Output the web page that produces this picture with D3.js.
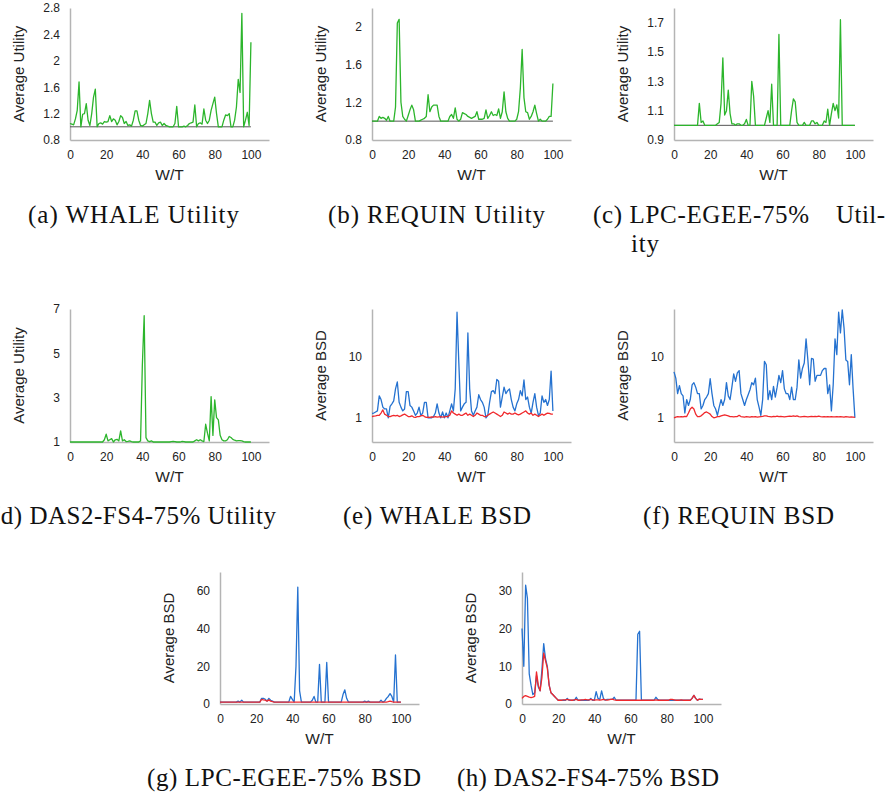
<!DOCTYPE html>
<html>
<head>
<meta charset="utf-8">
<script src="https://cdn.jsdelivr.net/npm/d3@7"></script>
<style>
  body { margin: 0; background: #fff; }
  svg text { font-family: "Liberation Sans", Arial, sans-serif; }
  .cap { font-family: "Liberation Serif", "Times New Roman", serif; font-size: 25px; fill: #111; }
</style>
</head>
<body>
<script>
// W/T values shared by every panel
const wt = d3.range(0, 101);
const xTicks = [0, 20, 40, 60, 80, 100];

// (a) WHALE utility
const whaleUtility = [
  1.05, 1.04, 1.03, 1.12, 1.25, 1.68, 1.0, 1.19, 1.2, 1.35,
  1.1, 1.02, 1.2, 1.45, 1.57, 1.0, 1.05, 1.06, 1.04, 1.08,
  1.07, 1.08, 1.17, 1.08, 1.12, 1.1, 1.03, 1.08, 1.17, 1.14,
  1.05, 1.08, 1.02, 1.03, 1.01, 1.1, 1.24, 1.24, 1.1, 1.02,
  1.01, 1.03, 1.05, 1.2, 1.4, 1.2, 1.07, 1.07, 1.02, 1.06,
  1.07, 1.02, 1.05, 1.02, 1.01, 1.0, 1.0, 1.0, 1.05, 1.31,
  1.0, 1.0, 1.0, 1.01, 1.0, 1.02, 1.05, 1.06, 1.07, 1.33,
  1.0, 1.05, 1.06, 1.04, 1.27, 1.1, 1.05, 1.1, 1.25, 1.35,
  1.45, 1.2, 1.0, 1.0, 1.0, 1.1, 1.18, 1.17, 1.2, 1.0,
  1.0, 1.1, 1.3, 1.72, 1.52, 2.72, 1.0, 1.1, 1.22, 1.02, 2.28
];
// (b) REQUIN utility
const requinUtility = [
  1.0, 1.0, 1.0, 1.0, 1.05, 1.03, 1.04, 1.03, 1.01, 1.05,
  1.0, 1.0, 1.0, 1.15, 2.04, 2.08, 1.2, 1.05, 1.02, 1.0,
  1.06, 1.12, 1.17, 1.12, 1.0, 1.0, 1.0, 1.01, 1.02, 1.03,
  1.05, 1.28, 1.1, 1.15, 1.17, 1.17, 1.17, 1.05, 1.0, 1.0,
  1.0, 1.0, 1.0, 1.05, 1.07, 1.03, 1.14, 1.02, 1.0, 1.02,
  1.09, 1.08, 1.07, 1.05, 1.04, 1.03, 1.04, 1.05, 1.1, 1.02,
  1.02, 1.02, 1.03, 1.12, 1.03, 1.06, 1.1, 1.06, 1.07, 1.06,
  1.13, 1.03, 1.1, 1.31, 1.1, 1.03, 1.0, 1.0, 1.0, 1.0,
  1.02, 1.1, 1.35, 1.76, 1.25, 1.1, 1.09, 1.02, 1.05, 1.1,
  1.17, 1.08, 1.0, 1.02, 1.0, 1.0, 1.0, 1.02, 1.05, 1.05, 1.4
];
// (c) LPC-EGEE-75% utility
const lpcUtility = [
  1.0, 1.0, 1.0, 1.0, 1.0, 1.0, 1.0, 1.0, 1.0, 1.0,
  1.0, 1.0, 1.0, 1.0, 1.15, 1.02, 1.03, 1.0, 1.0, 1.0,
  1.0, 1.0, 1.0, 1.0, 1.01, 1.02, 1.15, 1.46, 1.07, 1.1,
  1.24, 1.08, 1.01, 1.01, 1.0, 1.01, 1.01, 1.0, 1.0, 1.01,
  1.04, 1.0, 1.0, 1.3, 1.2, 1.0, 1.0, 1.0, 1.0, 1.0,
  1.0, 1.05, 1.1, 1.02, 1.28, 1.0, 1.0, 1.0, 1.62, 1.0,
  1.0, 1.0, 1.0, 1.0, 1.0, 1.1, 1.18, 1.16, 1.02, 1.0,
  1.0, 1.0, 1.02, 1.0, 1.0, 1.0, 1.03, 1.03, 1.01, 1.02,
  1.0, 1.0, 1.0, 1.03, 1.02, 1.11, 1.0, 1.08, 1.15, 1.1,
  1.14, 1.05, 1.72, 1.0, 1.0, 1.0, 1.0, 1.0, 1.0, 1.0, 1.0
];
// (d) DAS2-FS4-75% utility
const das2Utility = [
  1.0, 1.0, 1.0, 1.0, 1.0, 1.0, 1.0, 1.0, 1.0, 1.0,
  1.0, 1.0, 1.0, 1.0, 1.0, 1.0, 1.0, 1.0, 1.0, 1.1,
  1.35, 1.05, 1.1, 1.15, 1.0, 1.1, 1.12, 1.05, 1.5, 1.05,
  1.1, 1.02, 1.03, 1.05, 1.02, 1.0, 1.0, 1.0, 1.0, 1.05,
  4.5, 6.7, 1.2, 1.05, 1.02, 1.05, 1.0, 1.0, 1.0, 1.0,
  1.0, 1.0, 1.0, 1.0, 1.0, 1.0, 1.02, 1.03, 1.02, 1.0,
  1.0, 1.0, 1.03, 1.02, 1.0, 1.0, 1.0, 1.0, 1.0, 1.05,
  1.1, 1.05, 1.1, 1.05, 1.02, 1.8, 1.4, 1.05, 3.05, 1.3,
  2.9, 2.1, 2.0, 1.3, 1.1, 1.05, 1.05, 1.1, 1.25, 1.2,
  1.12, 1.08, 1.05, 1.06, 1.06, 1.05, 1.02, 1.0, 1.0, 1.0, 1.0
];

// (e) WHALE BSD
const whaleBsdBlue = [
  1.18, 1.2, 1.25, 1.3, 2.3, 2.0, 1.5, 1.4, 1.4, 1.0,
  1.55, 1.7, 1.9, 3.0, 3.9, 1.8, 1.5, 1.3, 1.4, 2.7,
  2.7, 1.6, 1.5, 1.3, 1.1, 1.2, 1.5, 1.1, 1.2, 1.8,
  1.8, 1.0, 1.0, 1.0, 1.05, 1.2, 1.7, 1.2, 1.0, 1.25,
  1.0, 1.2, 1.0, 1.3, 1.7, 1.3, 3.0, 55, 8, 1.3,
  1.5, 1.7, 1.8, 25, 3.0, 1.3, 1.1, 1.3, 1.5, 2.4,
  2.0, 1.8, 1.5, 1.0, 1.1, 1.8, 2.7, 2.8, 2.5, 4.3,
  4.0, 1.5, 2.2, 3.2, 2.5, 2.8, 3.0, 2.0, 1.5, 1.3,
  1.7, 2.0, 2.8, 2.3, 4.2, 2.0, 2.2, 1.5, 1.2, 1.8,
  2.5, 1.5, 1.1, 1.2, 2.3, 1.8, 2.0, 1.6, 2.0, 5.9, 1.3
];
const whaleBsdRed = [
  1.05, 1.07, 1.08, 1.1, 1.1, 1.2, 1.35, 1.15, 1.1, 1.05,
  1.05, 1.08, 1.1, 1.08, 1.1, 1.05, 1.08, 1.12, 1.15, 1.1,
  1.05, 1.05, 1.08, 1.03, 1.02, 1.05, 1.05, 1.08, 1.1, 1.05,
  1.02, 1.03, 1.02, 1.04, 1.03, 1.05, 1.03, 1.04, 1.05, 1.03,
  1.04, 1.05, 1.05, 1.1, 1.3, 1.2, 1.15, 1.1, 1.15, 1.1,
  1.1, 1.15, 1.2, 1.1, 1.15, 1.1, 1.05, 1.1, 1.2, 1.15,
  1.1, 1.1, 1.05, 1.05, 1.1, 1.15, 1.2, 1.25, 1.2, 1.15,
  1.1, 1.05, 1.1, 1.25, 1.2, 1.15, 1.2, 1.15, 1.15, 1.2,
  1.15, 1.12, 1.15, 1.2, 1.25, 1.3, 1.2, 1.15, 1.2, 1.1,
  1.15, 1.1, 1.05, 1.1, 1.15, 1.1, 1.15, 1.2, 1.18, 1.15, 1.15
];
// (f) REQUIN BSD
const requinBsdBlue = [
  5.7, 4.5, 2.5, 3.4, 2.5, 2.3, 1.2, 2.0, 1.6, 2.0,
  3.5, 3.8, 3.2, 2.5, 2.5, 1.4, 1.6, 2.0, 2.2, 2.5,
  4.4, 2.5, 1.6, 1.4, 1.1, 1.5, 2.0, 1.6, 2.0, 3.8,
  2.3, 2.0, 3.2, 5.3, 4.0, 5.5, 6.0, 2.5, 2.0, 1.6,
  2.0, 2.4, 2.9, 3.8, 3.5, 4.5, 2.0, 1.5, 1.1, 2.0,
  8.5, 7.5, 2.0, 2.8, 2.0, 3.3, 2.2, 3.2, 5.0, 3.8,
  6.0, 3.0, 2.5, 2.5, 2.0, 3.2, 2.0, 2.0, 3.2, 9.0,
  4.5, 6.5, 8.0, 20, 9.0, 3.5, 9.5, 9.3, 4.0, 5.0,
  5.0, 5.0, 6.0, 6.5, 6.5, 2.5, 3.5, 1.3, 3.5, 20,
  11, 55, 25, 60, 30, 9, 8.5, 3.5, 11, 3.0, 1.0
];
const requinBsdRed = [
  1.0, 1.03, 1.05, 1.04, 1.05, 1.04, 1.06, 1.05, 1.2, 1.4,
  1.5, 1.4, 1.15, 1.05, 1.05, 1.08, 1.15, 1.22, 1.25, 1.2,
  1.15, 1.05, 1.0, 1.02, 1.05, 1.05, 1.08, 1.1, 1.12, 1.1,
  1.08, 1.05, 1.05, 1.04, 1.05, 1.05, 1.1, 1.05, 1.04, 1.03,
  1.05, 1.04, 1.03, 1.05, 1.04, 1.05, 1.03, 1.04, 1.05, 1.06,
  1.08, 1.08, 1.06, 1.05, 1.04, 1.06, 1.05, 1.07, 1.05, 1.06,
  1.05, 1.04, 1.05, 1.06, 1.07, 1.06, 1.08, 1.06, 1.08, 1.05,
  1.04, 1.05, 1.06, 1.05, 1.04, 1.05, 1.06, 1.05, 1.06, 1.05,
  1.07, 1.05, 1.04, 1.05, 1.04, 1.05, 1.04, 1.05, 1.04, 1.04,
  1.05, 1.04, 1.05, 1.04, 1.03, 1.05, 1.04, 1.03, 1.04, 1.03, 1.02
];
// (g) LPC-EGEE-75% BSD
const lpcBsdBlue = [
  1.0, 1.0, 1.0, 1.0, 1.0, 1.0, 1.0, 1.0, 1.0, 1.0,
  1.5, 1.0, 2.0, 1.0, 1.0, 1.0, 1.0, 1.0, 1.0, 1.0,
  1.0, 1.0, 1.0, 3.0, 3.0, 2.5, 1.5, 3.0, 2.0, 1.5,
  1.0, 1.0, 1.0, 1.0, 1.0, 1.0, 1.0, 1.0, 1.0, 4.0,
  2.5, 1.0, 20, 62, 7.0, 1.0, 1.0, 1.0, 1.0, 1.0,
  1.0, 2.0, 4.0, 1.0, 1.0, 21, 1.0, 1.0, 1.0, 22,
  1.0, 1.0, 1.0, 1.0, 1.0, 1.0, 1.0, 1.0, 5.0, 7.5,
  3.0, 1.0, 1.0, 1.0, 1.0, 1.0, 1.0, 1.0, 1.0, 1.0,
  1.5, 1.0, 1.5, 1.0, 1.0, 1.0, 1.0, 1.0, 1.0, 2.0,
  1.0, 1.5, 3.0, 4.0, 5.5, 4.0, 1.0, 26, 1.0, 1.0, 1.0
];
const lpcBsdRed = [
  1.0, 1.0, 1.0, 1.0, 1.0, 1.0, 1.0, 1.0, 1.0, 1.0,
  1.0, 1.0, 1.0, 1.0, 1.0, 1.0, 1.0, 1.0, 1.0, 1.0,
  1.0, 1.0, 1.0, 2.5, 2.2, 2.0, 1.5, 2.2, 1.5, 1.2,
  1.0, 1.0, 1.0, 1.0, 1.0, 1.0, 1.0, 1.0, 1.0, 1.0,
  1.0, 1.0, 1.0, 1.0, 1.0, 1.0, 1.0, 1.0, 1.0, 1.0,
  1.0, 1.0, 1.0, 1.0, 1.0, 1.0, 1.0, 1.0, 1.0, 1.0,
  1.0, 1.0, 1.0, 1.0, 1.0, 1.0, 1.0, 1.0, 1.0, 1.0,
  1.0, 1.0, 1.0, 1.0, 1.0, 1.0, 1.0, 1.0, 1.0, 1.0,
  1.0, 1.0, 1.0, 1.0, 1.0, 1.0, 1.0, 1.0, 1.0, 1.0,
  1.0, 1.0, 1.0, 1.2, 1.5, 1.2, 1.0, 1.0, 1.0, 1.0, 1.0
];
// (h) DAS2-FS4-75% BSD
const das2BsdBlue = [
  20, 10, 31.5, 28, 8, 5, 2.5, 3.0, 7.5, 4.5,
  3.5, 9, 16, 12, 10, 5, 3, 2.5, 2.0, 1.5,
  1.0, 1.0, 1.0, 1.0, 1.0, 1.5, 1.0, 1.0, 1.0, 1.0,
  1.8, 1.0, 1.0, 1.0, 1.0, 1.0, 1.0, 1.0, 1.5, 1.0,
  1.0, 3.3, 1.5, 1.2, 3.5, 1.5, 1.0, 1.2, 1.2, 1.2,
  1.2, 1.8, 1.0, 1.0, 1.0, 1.0, 1.0, 1.0, 1.0, 1.0,
  1.0, 1.0, 1.0, 1.0, 18.5, 19.3, 1.0, 1.0, 1.0, 1.0,
  1.0, 1.0, 1.0, 1.0, 1.8, 1.2, 1.0, 1.0, 1.0, 1.0,
  1.0, 1.0, 1.0, 1.0, 1.0, 1.0, 1.0, 1.0, 1.0, 1.0,
  1.0, 1.0, 1.0, 1.0, 1.5, 2.3, 1.5, 1.0, 1.3, 1.2, 1.2
];
const das2BsdRed = [
  1.5, 2.0, 2.2, 2.0, 1.8, 1.7, 1.8, 2.0, 8.5, 5.0,
  3.5, 7.0, 13.5, 11.5, 9.5, 5.0, 3.0, 2.5, 2.0, 1.5,
  1.0, 1.0, 1.0, 1.1, 1.1, 1.2, 1.1, 1.0, 1.0, 1.1,
  1.2, 1.0, 1.0, 1.1, 1.1, 1.2, 1.1, 1.1, 1.2, 1.1,
  1.0, 1.1, 1.1, 1.0, 1.1, 1.2, 1.1, 1.0, 1.1, 1.2,
  1.3, 1.1, 1.0, 1.0, 1.0, 1.0, 1.0, 1.0, 1.0, 1.0,
  1.0, 1.0, 1.0, 1.0, 1.0, 1.0, 1.0, 1.0, 1.0, 1.0,
  1.0, 1.0, 1.0, 1.0, 1.1, 1.0, 1.0, 1.0, 1.0, 1.0,
  1.0, 1.0, 1.2, 1.2, 1.1, 1.0, 1.0, 1.0, 1.1, 1.0,
  1.0, 1.0, 1.0, 1.0, 1.5, 2.3, 1.5, 1.0, 1.3, 1.2, 1.2
];

// y tick values per panel
const ticksA = [0.8, 1.2, 1.6, 2, 2.4, 2.8];
const ticksB = [0.8, 1.2, 1.6, 2];
const ticksC = [0.9, 1.1, 1.3, 1.5, 1.7];
const ticksD = [1, 3, 5, 7];
const ticksBsdLog = [1, 10];
const ticksG = [0, 20, 40, 60];
const ticksH = [0, 10, 20, 30];

const green = '#2cb52c', blue = '#2572d0', red = '#f0282c';

const width = 889, height = 798;
const svg = d3.select('body').append('svg')
  .attr('width', width)
  .attr('height', height);

// panel layouts (left = y axis position)
const panels = [
  { left: 70,  top: 8,   bottom: 140, scale: 'lin', domain: [0.8, 2.8], ticks: ticksA, label: 'Average Utility', base: 1, series: [[whaleUtility, green]] },
  { left: 372, top: 8,   bottom: 140, scale: 'lin', domain: [0.8, 2.2], ticks: ticksB, label: 'Average Utility', base: 1, series: [[requinUtility, green]] },
  { left: 674, top: 8,   bottom: 140, scale: 'lin', domain: [0.9, 1.8], ticks: ticksC, label: 'Average Utility', base: 1, series: [[lpcUtility, green]] },
  { left: 70,  top: 309, bottom: 442, scale: 'lin', domain: [1, 7],     ticks: ticksD, label: 'Average Utility', series: [[das2Utility, green]] },
  { left: 372, top: 309, bottom: 442, scale: 'log', domain: [0.4, 62],  ticks: ticksBsdLog, label: 'Average BSD', series: [[whaleBsdBlue, blue], [whaleBsdRed, red]] },
  { left: 674, top: 309, bottom: 442, scale: 'log', domain: [0.4, 62],  ticks: ticksBsdLog, label: 'Average BSD', series: [[requinBsdBlue, blue], [requinBsdRed, red]] },
  { left: 220, top: 572, bottom: 704, scale: 'lin', domain: [0, 70],    ticks: ticksG, label: 'Average BSD', series: [[lpcBsdBlue, blue], [lpcBsdRed, red]] },
  { left: 522, top: 572, bottom: 704, scale: 'lin', domain: [0, 35],    ticks: ticksH, label: 'Average BSD', series: [[das2BsdBlue, blue], [das2BsdRed, red]] }
];

panels.forEach(p => {
  const x = d3.scaleLinear().domain([0, 110]).range([p.left, p.left + 199]);
  const y = (p.scale === 'log' ? d3.scaleLog() : d3.scaleLinear())
    .domain(p.domain).range([p.bottom, p.top]);

  const g = svg.append('g');

  // axes
  const xAxis = g.append('g')
    .attr('transform', `translate(0,${p.bottom})`)
    .call(d3.axisBottom(x).tickValues(xTicks).tickSize(0).tickSizeOuter(0).tickPadding(10.5).tickFormat(d3.format('d')));
  const yAxis = g.append('g')
    .attr('transform', `translate(${p.left},0)`)
    .call(d3.axisLeft(y).tickValues(p.ticks).tickSize(0).tickSizeOuter(0).tickPadding(10).tickFormat(d => String(d)));
  [xAxis, yAxis].forEach(a => {
    a.select('.domain').attr('stroke', '#b4b4b4').attr('stroke-width', 1.5);
    a.selectAll('text').attr('font-size', 12).attr('fill', '#222')
      .attr('font-family', '"Liberation Sans", Arial, sans-serif');
  });

  // axis titles
  g.append('text')
    .attr('x', (x(0) + x(110)) / 2)
    .attr('y', p.bottom + 40)
    .attr('text-anchor', 'middle')
    .attr('font-size', 15.5)
    .attr('fill', '#222')
    .text('W/T');
  g.append('text')
    .attr('transform', `translate(${p.left - 46.5},${(p.top + p.bottom) / 2}) rotate(-90)`)
    .attr('text-anchor', 'middle')
    .attr('font-size', 15)
    .attr('fill', '#222')
    .text(p.label);

  // reference line at 1
  if (p.base) {
    g.append('line')
      .attr('x1', x(0)).attr('x2', x(100))
      .attr('y1', y(p.base)).attr('y2', y(p.base))
      .attr('stroke', '#555').attr('stroke-width', 1);
  }

  const line = d3.line().x((d, i) => x(wt[i])).y(d => y(d));
  p.series.forEach(([vals, color]) => {
    g.append('path')
      .datum(vals)
      .attr('fill', 'none')
      .attr('stroke', color)
      .attr('stroke-width', 1.3)
      .attr('stroke-linejoin', 'round')
      .attr('d', line);
  });
});

// captions
const captions = [
  { text: '(a) WHALE Utility',          x: 28,  y: 223, w: 211 },
  { text: '(b) REQUIN Utility',         x: 328, y: 223, w: 217 },
  { text: '(c) LPC-EGEE-75%',           x: 593, y: 223, w: 216 },
  { text: 'Util-',                      x: 836, y: 223, w: 49 },
  { text: 'ity',                        x: 631, y: 252, w: 28 },
  { text: '(d) DAS2-FS4-75% Utility',   x: -8,  y: 524, w: 284 },
  { text: '(e) WHALE BSD',              x: 343, y: 524, w: 188 },
  { text: '(f) REQUIN BSD',             x: 643, y: 524, w: 191 },
  { text: '(g) LPC-EGEE-75% BSD',       x: 147, y: 786, w: 274 },
  { text: '(h) DAS2-FS4-75% BSD',       x: 457, y: 786, w: 262 }
];
svg.selectAll('text.cap')
  .data(captions)
  .enter().append('text')
  .attr('class', 'cap')
  .attr('x', d => d.x)
  .attr('y', d => d.y)
  .attr('textLength', d => d.w)
  .attr('lengthAdjust', 'spacing')
  .text(d => d.text);
</script>
</body>
</html>
